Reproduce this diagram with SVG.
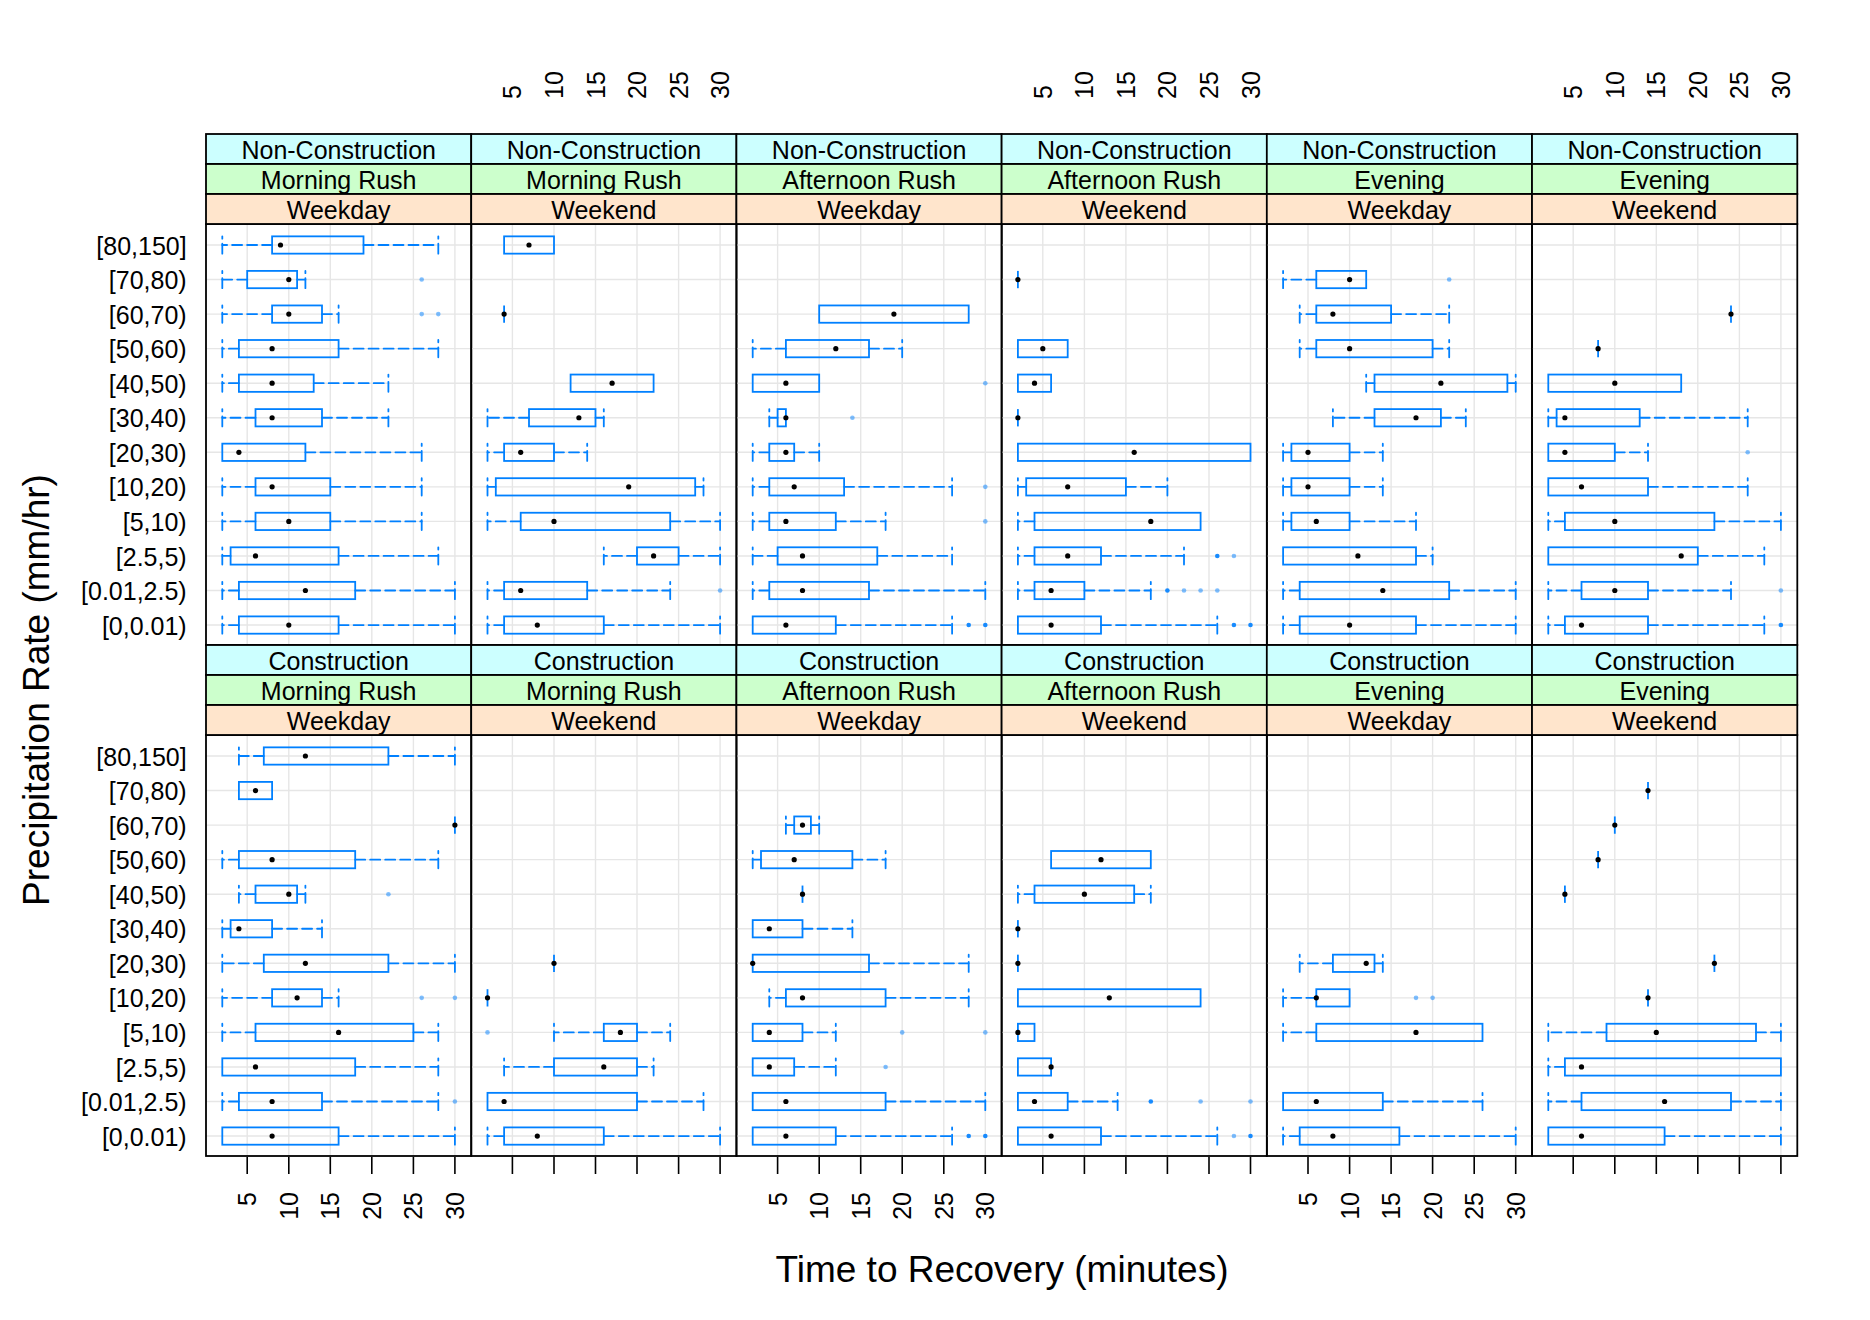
<svg xmlns="http://www.w3.org/2000/svg" width="1870" height="1320" viewBox="0 0 1870 1320">
<style>
text{font-family:"Liberation Sans",Arial,sans-serif;fill:#000}
.st{font-size:25px;text-anchor:middle}
.yl{font-size:25px;text-anchor:end}
.tk{font-size:25px}
.tke{font-size:25px;text-anchor:end}
.ttl{font-size:37px;text-anchor:middle}
.g{fill:none;stroke:#e6e6e6;stroke-width:1.4}
.f{fill:none;stroke:#000;stroke-width:1.8}
.s1{fill:#ccffff;stroke:#000;stroke-width:1.8}
.s2{fill:#ccffcc;stroke:#000;stroke-width:1.8}
.s3{fill:#ffe5cc;stroke:#000;stroke-width:1.8}
.b{fill:none;stroke:#0080ff;stroke-width:1.8}
.w{fill:none;stroke:#0080ff;stroke-width:1.8;stroke-dasharray:10 5;stroke-linecap:round}
.m{fill:#000}
.o{fill:#0080ff;fill-opacity:.5}
.od{fill:#0080ff;fill-opacity:.9}
.tick{fill:none;stroke:#000;stroke-width:1.6}
</style>
<defs>
<path id="grid" class="g" d="M41.5 0V421M83.1 0V421M124.6 0V421M166.1 0V421M207.7 0V421M249.2 0V421M0.3 21H265.6M0.3 55.55H265.6M0.3 90.1H265.6M0.3 124.65H265.6M0.3 159.2H265.6M0.3 193.75H265.6M0.3 228.3H265.6M0.3 262.85H265.6M0.3 297.4H265.6M0.3 331.95H265.6M0.3 366.5H265.6M0.3 401.05H265.6"/>
<path id="sp" d="M0 8.65V-8.65" fill="none" stroke="#0080ff" stroke-width="1.8" stroke-dasharray="10 5" stroke-linecap="round"/>
<path id="pt" d="M0 8.65V-8.65" fill="none" stroke="#0080ff" stroke-width="1.8"/>
</defs>
<rect width="1870" height="1320" fill="#fff"/>

<g id="axis-labels">
<text class="yl" x="186.7" y="254.5">[80,150]</text>
<text class="yl" x="186.7" y="289.1">[70,80)</text>
<text class="yl" x="186.7" y="323.6">[60,70)</text>
<text class="yl" x="186.7" y="358.2">[50,60)</text>
<text class="yl" x="186.7" y="392.7">[40,50)</text>
<text class="yl" x="186.7" y="427.3">[30,40)</text>
<text class="yl" x="186.7" y="461.8">[20,30)</text>
<text class="yl" x="186.7" y="496.4">[10,20)</text>
<text class="yl" x="186.7" y="530.9">[5,10)</text>
<text class="yl" x="186.7" y="565.5">[2.5,5)</text>
<text class="yl" x="186.7" y="600">[0.01,2.5)</text>
<text class="yl" x="186.7" y="634.5">[0,0.01)</text>
<text class="yl" x="186.7" y="765.5">[80,150]</text>
<text class="yl" x="186.7" y="800.1">[70,80)</text>
<text class="yl" x="186.7" y="834.6">[60,70)</text>
<text class="yl" x="186.7" y="869.2">[50,60)</text>
<text class="yl" x="186.7" y="903.7">[40,50)</text>
<text class="yl" x="186.7" y="938.3">[30,40)</text>
<text class="yl" x="186.7" y="972.8">[20,30)</text>
<text class="yl" x="186.7" y="1007.4">[10,20)</text>
<text class="yl" x="186.7" y="1041.9">[5,10)</text>
<text class="yl" x="186.7" y="1076.5">[2.5,5)</text>
<text class="yl" x="186.7" y="1111">[0.01,2.5)</text>
<text class="yl" x="186.7" y="1145.5">[0,0.01)</text>

<text class="tk" transform="translate(521.4,99) rotate(-90)">5</text>
<text class="tk" transform="translate(563,99) rotate(-90)">10</text>
<text class="tk" transform="translate(604.5,99) rotate(-90)">15</text>
<text class="tk" transform="translate(646,99) rotate(-90)">20</text>
<text class="tk" transform="translate(687.6,99) rotate(-90)">25</text>
<text class="tk" transform="translate(729.1,99) rotate(-90)">30</text>
<text class="tk" transform="translate(1051.8,99) rotate(-90)">5</text>
<text class="tk" transform="translate(1093.4,99) rotate(-90)">10</text>
<text class="tk" transform="translate(1134.9,99) rotate(-90)">15</text>
<text class="tk" transform="translate(1176.4,99) rotate(-90)">20</text>
<text class="tk" transform="translate(1218,99) rotate(-90)">25</text>
<text class="tk" transform="translate(1259.5,99) rotate(-90)">30</text>
<text class="tk" transform="translate(1582.2,99) rotate(-90)">5</text>
<text class="tk" transform="translate(1623.8,99) rotate(-90)">10</text>
<text class="tk" transform="translate(1665.3,99) rotate(-90)">15</text>
<text class="tk" transform="translate(1706.8,99) rotate(-90)">20</text>
<text class="tk" transform="translate(1748.4,99) rotate(-90)">25</text>
<text class="tk" transform="translate(1789.9,99) rotate(-90)">30</text>

<text class="tke" transform="translate(256.2,1192) rotate(-90)">5</text>
<text class="tke" transform="translate(297.8,1192) rotate(-90)">10</text>
<text class="tke" transform="translate(339.3,1192) rotate(-90)">15</text>
<text class="tke" transform="translate(380.8,1192) rotate(-90)">20</text>
<text class="tke" transform="translate(422.4,1192) rotate(-90)">25</text>
<text class="tke" transform="translate(463.9,1192) rotate(-90)">30</text>
<text class="tke" transform="translate(786.6,1192) rotate(-90)">5</text>
<text class="tke" transform="translate(828.2,1192) rotate(-90)">10</text>
<text class="tke" transform="translate(869.7,1192) rotate(-90)">15</text>
<text class="tke" transform="translate(911.2,1192) rotate(-90)">20</text>
<text class="tke" transform="translate(952.8,1192) rotate(-90)">25</text>
<text class="tke" transform="translate(994.3,1192) rotate(-90)">30</text>
<text class="tke" transform="translate(1317,1192) rotate(-90)">5</text>
<text class="tke" transform="translate(1358.6,1192) rotate(-90)">10</text>
<text class="tke" transform="translate(1400.1,1192) rotate(-90)">15</text>
<text class="tke" transform="translate(1441.6,1192) rotate(-90)">20</text>
<text class="tke" transform="translate(1483.2,1192) rotate(-90)">25</text>
<text class="tke" transform="translate(1524.7,1192) rotate(-90)">30</text>

<path class="tick" d="M247.2 1157V1174M288.8 1157V1174M330.3 1157V1174M371.8 1157V1174M413.4 1157V1174M454.9 1157V1174M512.4 1157V1174M554 1157V1174M595.5 1157V1174M637 1157V1174M678.6 1157V1174M720.1 1157V1174M777.6 1157V1174M819.2 1157V1174M860.7 1157V1174M902.2 1157V1174M943.8 1157V1174M985.3 1157V1174M1042.8 1157V1174M1084.4 1157V1174M1125.9 1157V1174M1167.4 1157V1174M1209 1157V1174M1250.5 1157V1174M1308 1157V1174M1349.6 1157V1174M1391.1 1157V1174M1432.6 1157V1174M1474.2 1157V1174M1515.7 1157V1174M1573.2 1157V1174M1614.8 1157V1174M1656.3 1157V1174M1697.8 1157V1174M1739.4 1157V1174M1780.9 1157V1174"/>

<text class="ttl" x="1002" y="1282">Time to Recovery (minutes)</text>
<text class="ttl" transform="translate(49.3,690) rotate(-90)">Precipitation Rate (mm/hr)</text>
</g>

<!-- ===== Top row: Non-Construction ===== -->
<g id="p-nc-morning-weekday" transform="translate(205.7,224)">
<use href="#grid"/>
<g transform="translate(0,21)"><line class="w" x1="66.4" x2="16.6"/><use href="#sp" x="16.6"/><rect class="b" x="66.4" y="-8.65" width="91.4" height="17.3"/><line class="w" x1="157.8" x2="232.6"/><use href="#sp" x="232.6"/><circle class="m" cx="74.8" r="2.6"/></g>
<g transform="translate(0,55.55)"><line class="w" x1="41.5" x2="16.6"/><use href="#sp" x="16.6"/><rect class="b" x="41.5" y="-8.65" width="49.9" height="17.3"/><line class="w" x1="91.4" x2="99.7"/><use href="#sp" x="99.7"/><circle class="m" cx="83.1" r="2.6"/><circle class="o" cx="216" r="2.3"/></g>
<g transform="translate(0,90.1)"><line class="w" x1="66.4" x2="16.6"/><use href="#sp" x="16.6"/><rect class="b" x="66.4" y="-8.65" width="49.9" height="17.3"/><line class="w" x1="116.3" x2="132.9"/><use href="#sp" x="132.9"/><circle class="m" cx="83.1" r="2.6"/><circle class="o" cx="216" r="2.3"/><circle class="o" cx="232.6" r="2.3"/></g>
<g transform="translate(0,124.65)"><line class="w" x1="33.2" x2="16.6"/><use href="#sp" x="16.6"/><rect class="b" x="33.2" y="-8.65" width="99.7" height="17.3"/><line class="w" x1="132.9" x2="232.6"/><use href="#sp" x="232.6"/><circle class="m" cx="66.4" r="2.6"/></g>
<g transform="translate(0,159.2)"><line class="w" x1="33.2" x2="16.6"/><use href="#sp" x="16.6"/><rect class="b" x="33.2" y="-8.65" width="74.8" height="17.3"/><line class="w" x1="108" x2="182.7"/><use href="#sp" x="182.7"/><circle class="m" cx="66.4" r="2.6"/></g>
<g transform="translate(0,193.75)"><line class="w" x1="49.8" x2="16.6"/><use href="#sp" x="16.6"/><rect class="b" x="49.8" y="-8.65" width="66.5" height="17.3"/><line class="w" x1="116.3" x2="182.7"/><use href="#sp" x="182.7"/><circle class="m" cx="66.4" r="2.6"/></g>
<g transform="translate(0,228.3)"><rect class="b" x="16.6" y="-8.65" width="83.1" height="17.3"/><line class="w" x1="99.7" x2="216"/><use href="#sp" x="216"/><circle class="m" cx="33.2" r="2.6"/></g>
<g transform="translate(0,262.85)"><line class="w" x1="49.8" x2="16.6"/><use href="#sp" x="16.6"/><rect class="b" x="49.8" y="-8.65" width="74.8" height="17.3"/><line class="w" x1="124.6" x2="216"/><use href="#sp" x="216"/><circle class="m" cx="66.4" r="2.6"/></g>
<g transform="translate(0,297.4)"><line class="w" x1="49.8" x2="16.6"/><use href="#sp" x="16.6"/><rect class="b" x="49.8" y="-8.65" width="74.8" height="17.3"/><line class="w" x1="124.6" x2="216"/><use href="#sp" x="216"/><circle class="m" cx="83.1" r="2.6"/></g>
<g transform="translate(0,331.95)"><line class="w" x1="24.9" x2="16.6"/><use href="#sp" x="16.6"/><rect class="b" x="24.9" y="-8.65" width="108" height="17.3"/><line class="w" x1="132.9" x2="232.6"/><use href="#sp" x="232.6"/><circle class="m" cx="49.8" r="2.6"/></g>
<g transform="translate(0,366.5)"><line class="w" x1="33.2" x2="16.6"/><use href="#sp" x="16.6"/><rect class="b" x="33.2" y="-8.65" width="116.3" height="17.3"/><line class="w" x1="149.5" x2="249.2"/><use href="#sp" x="249.2"/><circle class="m" cx="99.7" r="2.6"/></g>
<g transform="translate(0,401.05)"><line class="w" x1="33.2" x2="16.6"/><use href="#sp" x="16.6"/><rect class="b" x="33.2" y="-8.65" width="99.7" height="17.3"/><line class="w" x1="132.9" x2="249.2"/><use href="#sp" x="249.2"/><circle class="m" cx="83.1" r="2.6"/></g>
<rect class="f" x="0.3" y="0" width="265.3" height="421"/>
<rect class="s1" x="0.3" y="-90" width="265.3" height="30"/><text class="st" x="133" y="-65">Non-Construction</text>
<rect class="s2" x="0.3" y="-60" width="265.3" height="30"/><text class="st" x="133" y="-35">Morning Rush</text>
<rect class="s3" x="0.3" y="-30" width="265.3" height="30"/><text class="st" x="133" y="-5">Weekday</text>
</g>

<g id="p-nc-morning-weekend" transform="translate(470.9,224)">
<use href="#grid"/>
<g transform="translate(0,21)"><rect class="b" x="33.2" y="-8.65" width="49.9" height="17.3"/><circle class="m" cx="58.1" r="2.6"/></g>
<g transform="translate(0,90.1)"><use href="#pt" x="33.2"/><circle class="m" cx="33.2" r="2.6"/></g>
<g transform="translate(0,159.2)"><rect class="b" x="99.7" y="-8.65" width="83" height="17.3"/><circle class="m" cx="141.2" r="2.6"/></g>
<g transform="translate(0,193.75)"><line class="w" x1="58.1" x2="16.6"/><use href="#sp" x="16.6"/><rect class="b" x="58.1" y="-8.65" width="66.5" height="17.3"/><line class="w" x1="124.6" x2="132.9"/><use href="#sp" x="132.9"/><circle class="m" cx="108" r="2.6"/></g>
<g transform="translate(0,228.3)"><line class="w" x1="33.2" x2="16.6"/><use href="#sp" x="16.6"/><rect class="b" x="33.2" y="-8.65" width="49.9" height="17.3"/><line class="w" x1="83.1" x2="116.3"/><use href="#sp" x="116.3"/><circle class="m" cx="49.8" r="2.6"/></g>
<g transform="translate(0,262.85)"><line class="w" x1="24.9" x2="16.6"/><use href="#sp" x="16.6"/><rect class="b" x="24.9" y="-8.65" width="199.4" height="17.3"/><line class="w" x1="224.3" x2="232.6"/><use href="#sp" x="232.6"/><circle class="m" cx="157.8" r="2.6"/></g>
<g transform="translate(0,297.4)"><line class="w" x1="49.8" x2="16.6"/><use href="#sp" x="16.6"/><rect class="b" x="49.8" y="-8.65" width="149.5" height="17.3"/><line class="w" x1="199.3" x2="249.2"/><use href="#sp" x="249.2"/><circle class="m" cx="83.1" r="2.6"/></g>
<g transform="translate(0,331.95)"><line class="w" x1="166.1" x2="132.9"/><use href="#sp" x="132.9"/><rect class="b" x="166.1" y="-8.65" width="41.6" height="17.3"/><line class="w" x1="207.7" x2="249.2"/><use href="#sp" x="249.2"/><circle class="m" cx="182.7" r="2.6"/></g>
<g transform="translate(0,366.5)"><line class="w" x1="33.2" x2="16.6"/><use href="#sp" x="16.6"/><rect class="b" x="33.2" y="-8.65" width="83.1" height="17.3"/><line class="w" x1="116.3" x2="199.3"/><use href="#sp" x="199.3"/><circle class="m" cx="49.8" r="2.6"/><circle class="o" cx="249.2" r="2.3"/></g>
<g transform="translate(0,401.05)"><line class="w" x1="33.2" x2="16.6"/><use href="#sp" x="16.6"/><rect class="b" x="33.2" y="-8.65" width="99.7" height="17.3"/><line class="w" x1="132.9" x2="249.2"/><use href="#sp" x="249.2"/><circle class="m" cx="66.4" r="2.6"/></g>
<rect class="f" x="0.3" y="0" width="265.3" height="421"/>
<rect class="s1" x="0.3" y="-90" width="265.3" height="30"/><text class="st" x="133" y="-65">Non-Construction</text>
<rect class="s2" x="0.3" y="-60" width="265.3" height="30"/><text class="st" x="133" y="-35">Morning Rush</text>
<rect class="s3" x="0.3" y="-30" width="265.3" height="30"/><text class="st" x="133" y="-5">Weekend</text>
</g>

<g id="p-nc-afternoon-weekday" transform="translate(736.1,224)">
<use href="#grid"/>
<g transform="translate(0,90.1)"><rect class="b" x="83.1" y="-8.65" width="149.5" height="17.3"/><circle class="m" cx="157.8" r="2.6"/></g>
<g transform="translate(0,124.65)"><line class="w" x1="49.8" x2="16.6"/><use href="#sp" x="16.6"/><rect class="b" x="49.8" y="-8.65" width="83.1" height="17.3"/><line class="w" x1="132.9" x2="166.1"/><use href="#sp" x="166.1"/><circle class="m" cx="99.7" r="2.6"/></g>
<g transform="translate(0,159.2)"><rect class="b" x="16.6" y="-8.65" width="66.5" height="17.3"/><circle class="m" cx="49.8" r="2.6"/><circle class="o" cx="249.2" r="2.3"/></g>
<g transform="translate(0,193.75)"><line class="w" x1="41.5" x2="33.2"/><use href="#sp" x="33.2"/><rect class="b" x="41.5" y="-8.65" width="8.3" height="17.3"/><circle class="m" cx="49.8" r="2.6"/><circle class="o" cx="116.3" r="2.3"/></g>
<g transform="translate(0,228.3)"><line class="w" x1="33.2" x2="16.6"/><use href="#sp" x="16.6"/><rect class="b" x="33.2" y="-8.65" width="24.9" height="17.3"/><line class="w" x1="58.1" x2="83.1"/><use href="#sp" x="83.1"/><circle class="m" cx="49.8" r="2.6"/></g>
<g transform="translate(0,262.85)"><line class="w" x1="33.2" x2="16.6"/><use href="#sp" x="16.6"/><rect class="b" x="33.2" y="-8.65" width="74.8" height="17.3"/><line class="w" x1="108" x2="216"/><use href="#sp" x="216"/><circle class="m" cx="58.1" r="2.6"/><circle class="o" cx="249.2" r="2.3"/></g>
<g transform="translate(0,297.4)"><line class="w" x1="33.2" x2="16.6"/><use href="#sp" x="16.6"/><rect class="b" x="33.2" y="-8.65" width="66.5" height="17.3"/><line class="w" x1="99.7" x2="149.5"/><use href="#sp" x="149.5"/><circle class="m" cx="49.8" r="2.6"/><circle class="o" cx="249.2" r="2.3" fill-opacity=".7"/></g>
<g transform="translate(0,331.95)"><line class="w" x1="41.5" x2="16.6"/><use href="#sp" x="16.6"/><rect class="b" x="41.5" y="-8.65" width="99.7" height="17.3"/><line class="w" x1="141.2" x2="216"/><use href="#sp" x="216"/><circle class="m" cx="66.4" r="2.6"/></g>
<g transform="translate(0,366.5)"><line class="w" x1="33.2" x2="16.6"/><use href="#sp" x="16.6"/><rect class="b" x="33.2" y="-8.65" width="99.7" height="17.3"/><line class="w" x1="132.9" x2="249.2"/><use href="#sp" x="249.2"/><circle class="m" cx="66.4" r="2.6"/></g>
<g transform="translate(0,401.05)"><rect class="b" x="16.6" y="-8.65" width="83.1" height="17.3"/><line class="w" x1="99.7" x2="216"/><use href="#sp" x="216"/><circle class="m" cx="49.8" r="2.6"/><circle class="od" cx="232.6" r="2.3"/><circle class="od" cx="249.2" r="2.3"/></g>
<rect class="f" x="0.3" y="0" width="265.3" height="421"/>
<rect class="s1" x="0.3" y="-90" width="265.3" height="30"/><text class="st" x="133" y="-65">Non-Construction</text>
<rect class="s2" x="0.3" y="-60" width="265.3" height="30"/><text class="st" x="133" y="-35">Afternoon Rush</text>
<rect class="s3" x="0.3" y="-30" width="265.3" height="30"/><text class="st" x="133" y="-5">Weekday</text>
</g>

<g id="p-nc-afternoon-weekend" transform="translate(1001.3,224)">
<use href="#grid"/>
<g transform="translate(0,55.55)"><use href="#pt" x="16.6"/><circle class="m" cx="16.6" r="2.6"/></g>
<g transform="translate(0,124.65)"><rect class="b" x="16.6" y="-8.65" width="49.8" height="17.3"/><circle class="m" cx="41.5" r="2.6"/></g>
<g transform="translate(0,159.2)"><rect class="b" x="16.6" y="-8.65" width="33.2" height="17.3"/><circle class="m" cx="33.2" r="2.6"/></g>
<g transform="translate(0,193.75)"><use href="#pt" x="16.6"/><circle class="m" cx="16.6" r="2.6"/></g>
<g transform="translate(0,228.3)"><rect class="b" x="16.6" y="-8.65" width="232.6" height="17.3"/><circle class="m" cx="132.9" r="2.6"/></g>
<g transform="translate(0,262.85)"><line class="w" x1="24.9" x2="16.6"/><use href="#sp" x="16.6"/><rect class="b" x="24.9" y="-8.65" width="99.7" height="17.3"/><line class="w" x1="124.6" x2="166.1"/><use href="#sp" x="166.1"/><circle class="m" cx="66.4" r="2.6"/></g>
<g transform="translate(0,297.4)"><line class="w" x1="33.2" x2="16.6"/><use href="#sp" x="16.6"/><rect class="b" x="33.2" y="-8.65" width="166.1" height="17.3"/><circle class="m" cx="149.5" r="2.6"/></g>
<g transform="translate(0,331.95)"><line class="w" x1="33.2" x2="16.6"/><use href="#sp" x="16.6"/><rect class="b" x="33.2" y="-8.65" width="66.5" height="17.3"/><line class="w" x1="99.7" x2="182.7"/><use href="#sp" x="182.7"/><circle class="m" cx="66.4" r="2.6"/><circle class="od" cx="216" r="2.3"/><circle class="o" cx="232.6" r="2.3"/></g>
<g transform="translate(0,366.5)"><line class="w" x1="33.2" x2="16.6"/><use href="#sp" x="16.6"/><rect class="b" x="33.2" y="-8.65" width="49.9" height="17.3"/><line class="w" x1="83.1" x2="149.5"/><use href="#sp" x="149.5"/><circle class="m" cx="49.8" r="2.6"/><circle class="od" cx="166.1" r="2.3"/><circle class="o" cx="182.7" r="2.3"/><circle class="o" cx="199.3" r="2.3"/><circle class="o" cx="216" r="2.3"/></g>
<g transform="translate(0,401.05)"><rect class="b" x="16.6" y="-8.65" width="83.1" height="17.3"/><line class="w" x1="99.7" x2="216"/><use href="#sp" x="216"/><circle class="m" cx="49.8" r="2.6"/><circle class="od" cx="232.6" r="2.3"/><circle class="od" cx="249.2" r="2.3"/></g>
<rect class="f" x="0.3" y="0" width="265.3" height="421"/>
<rect class="s1" x="0.3" y="-90" width="265.3" height="30"/><text class="st" x="133" y="-65">Non-Construction</text>
<rect class="s2" x="0.3" y="-60" width="265.3" height="30"/><text class="st" x="133" y="-35">Afternoon Rush</text>
<rect class="s3" x="0.3" y="-30" width="265.3" height="30"/><text class="st" x="133" y="-5">Weekend</text>
</g>

<g id="p-nc-evening-weekday" transform="translate(1266.5,224)">
<use href="#grid"/>
<g transform="translate(0,55.55)"><line class="w" x1="49.8" x2="16.6"/><use href="#sp" x="16.6"/><rect class="b" x="49.8" y="-8.65" width="49.9" height="17.3"/><circle class="m" cx="83.1" r="2.6"/><circle class="o" cx="182.7" r="2.3"/></g>
<g transform="translate(0,90.1)"><line class="w" x1="49.8" x2="33.2"/><use href="#sp" x="33.2"/><rect class="b" x="49.8" y="-8.65" width="74.8" height="17.3"/><line class="w" x1="124.6" x2="182.7"/><use href="#sp" x="182.7"/><circle class="m" cx="66.4" r="2.6"/></g>
<g transform="translate(0,124.65)"><line class="w" x1="49.8" x2="33.2"/><use href="#sp" x="33.2"/><rect class="b" x="49.8" y="-8.65" width="116.3" height="17.3"/><line class="w" x1="166.1" x2="182.7"/><use href="#sp" x="182.7"/><circle class="m" cx="83.1" r="2.6"/></g>
<g transform="translate(0,159.2)"><line class="w" x1="108" x2="99.7"/><use href="#sp" x="99.7"/><rect class="b" x="108" y="-8.65" width="132.9" height="17.3"/><line class="w" x1="240.9" x2="249.2"/><use href="#sp" x="249.2"/><circle class="m" cx="174.4" r="2.6"/></g>
<g transform="translate(0,193.75)"><line class="w" x1="108" x2="66.4"/><use href="#sp" x="66.4"/><rect class="b" x="108" y="-8.65" width="66.4" height="17.3"/><line class="w" x1="174.4" x2="199.3"/><use href="#sp" x="199.3"/><circle class="m" cx="149.5" r="2.6"/></g>
<g transform="translate(0,228.3)"><line class="w" x1="24.9" x2="16.6"/><use href="#sp" x="16.6"/><rect class="b" x="24.9" y="-8.65" width="58.2" height="17.3"/><line class="w" x1="83.1" x2="116.3"/><use href="#sp" x="116.3"/><circle class="m" cx="41.5" r="2.6"/></g>
<g transform="translate(0,262.85)"><line class="w" x1="24.9" x2="16.6"/><use href="#sp" x="16.6"/><rect class="b" x="24.9" y="-8.65" width="58.2" height="17.3"/><line class="w" x1="83.1" x2="116.3"/><use href="#sp" x="116.3"/><circle class="m" cx="41.5" r="2.6"/></g>
<g transform="translate(0,297.4)"><line class="w" x1="24.9" x2="16.6"/><use href="#sp" x="16.6"/><rect class="b" x="24.9" y="-8.65" width="58.2" height="17.3"/><line class="w" x1="83.1" x2="149.5"/><use href="#sp" x="149.5"/><circle class="m" cx="49.8" r="2.6"/></g>
<g transform="translate(0,331.95)"><rect class="b" x="16.6" y="-8.65" width="132.9" height="17.3"/><line class="w" x1="149.5" x2="166.1"/><use href="#sp" x="166.1"/><circle class="m" cx="91.4" r="2.6"/></g>
<g transform="translate(0,366.5)"><line class="w" x1="33.2" x2="16.6"/><use href="#sp" x="16.6"/><rect class="b" x="33.2" y="-8.65" width="149.5" height="17.3"/><line class="w" x1="182.7" x2="249.2"/><use href="#sp" x="249.2"/><circle class="m" cx="116.3" r="2.6"/></g>
<g transform="translate(0,401.05)"><line class="w" x1="33.2" x2="16.6"/><use href="#sp" x="16.6"/><rect class="b" x="33.2" y="-8.65" width="116.3" height="17.3"/><line class="w" x1="149.5" x2="249.2"/><use href="#sp" x="249.2"/><circle class="m" cx="83.1" r="2.6"/></g>
<rect class="f" x="0.3" y="0" width="265.3" height="421"/>
<rect class="s1" x="0.3" y="-90" width="265.3" height="30"/><text class="st" x="133" y="-65">Non-Construction</text>
<rect class="s2" x="0.3" y="-60" width="265.3" height="30"/><text class="st" x="133" y="-35">Evening</text>
<rect class="s3" x="0.3" y="-30" width="265.3" height="30"/><text class="st" x="133" y="-5">Weekday</text>
</g>

<g id="p-nc-evening-weekend" transform="translate(1531.7,224)">
<use href="#grid"/>
<g transform="translate(0,90.1)"><use href="#pt" x="199.3"/><circle class="m" cx="199.3" r="2.6"/></g>
<g transform="translate(0,124.65)"><use href="#pt" x="66.4"/><circle class="m" cx="66.4" r="2.6"/></g>
<g transform="translate(0,159.2)"><rect class="b" x="16.6" y="-8.65" width="132.9" height="17.3"/><circle class="m" cx="83.1" r="2.6"/></g>
<g transform="translate(0,193.75)"><line class="w" x1="24.9" x2="16.6"/><use href="#sp" x="16.6"/><rect class="b" x="24.9" y="-8.65" width="83.1" height="17.3"/><line class="w" x1="108" x2="216"/><use href="#sp" x="216"/><circle class="m" cx="33.2" r="2.6"/></g>
<g transform="translate(0,228.3)"><rect class="b" x="16.6" y="-8.65" width="66.5" height="17.3"/><line class="w" x1="83.1" x2="116.3"/><use href="#sp" x="116.3"/><circle class="m" cx="33.2" r="2.6"/><circle class="o" cx="216" r="2.3" fill-opacity=".7"/></g>
<g transform="translate(0,262.85)"><rect class="b" x="16.6" y="-8.65" width="99.7" height="17.3"/><line class="w" x1="116.3" x2="216"/><use href="#sp" x="216"/><circle class="m" cx="49.8" r="2.6"/></g>
<g transform="translate(0,297.4)"><line class="w" x1="33.2" x2="16.6"/><use href="#sp" x="16.6"/><rect class="b" x="33.2" y="-8.65" width="149.5" height="17.3"/><line class="w" x1="182.7" x2="249.2"/><use href="#sp" x="249.2"/><circle class="m" cx="83.1" r="2.6"/></g>
<g transform="translate(0,331.95)"><rect class="b" x="16.6" y="-8.65" width="149.5" height="17.3"/><line class="w" x1="166.1" x2="232.6"/><use href="#sp" x="232.6"/><circle class="m" cx="149.5" r="2.6"/></g>
<g transform="translate(0,366.5)"><line class="w" x1="49.8" x2="16.6"/><use href="#sp" x="16.6"/><rect class="b" x="49.8" y="-8.65" width="66.5" height="17.3"/><line class="w" x1="116.3" x2="199.3"/><use href="#sp" x="199.3"/><circle class="m" cx="83.1" r="2.6"/><circle class="o" cx="249.2" r="2.3"/></g>
<g transform="translate(0,401.05)"><line class="w" x1="33.2" x2="16.6"/><use href="#sp" x="16.6"/><rect class="b" x="33.2" y="-8.65" width="83.1" height="17.3"/><line class="w" x1="116.3" x2="232.6"/><use href="#sp" x="232.6"/><circle class="m" cx="49.8" r="2.6"/><circle class="od" cx="249.2" r="2.3"/></g>
<rect class="f" x="0.3" y="0" width="265.3" height="421"/>
<rect class="s1" x="0.3" y="-90" width="265.3" height="30"/><text class="st" x="133" y="-65">Non-Construction</text>
<rect class="s2" x="0.3" y="-60" width="265.3" height="30"/><text class="st" x="133" y="-35">Evening</text>
<rect class="s3" x="0.3" y="-30" width="265.3" height="30"/><text class="st" x="133" y="-5">Weekend</text>
</g>

<!-- ===== Bottom row: Construction ===== -->
<g id="p-c-morning-weekday" transform="translate(205.7,735)">
<use href="#grid"/>
<g transform="translate(0,21)"><line class="w" x1="58.1" x2="33.2"/><use href="#sp" x="33.2"/><rect class="b" x="58.1" y="-8.65" width="124.6" height="17.3"/><line class="w" x1="182.7" x2="249.2"/><use href="#sp" x="249.2"/><circle class="m" cx="99.7" r="2.6"/></g>
<g transform="translate(0,55.55)"><rect class="b" x="33.2" y="-8.65" width="33.2" height="17.3"/><circle class="m" cx="49.8" r="2.6"/></g>
<g transform="translate(0,90.1)"><use href="#pt" x="249.2"/><circle class="m" cx="249.2" r="2.6"/></g>
<g transform="translate(0,124.65)"><line class="w" x1="33.2" x2="16.6"/><use href="#sp" x="16.6"/><rect class="b" x="33.2" y="-8.65" width="116.3" height="17.3"/><line class="w" x1="149.5" x2="232.6"/><use href="#sp" x="232.6"/><circle class="m" cx="66.4" r="2.6"/></g>
<g transform="translate(0,159.2)"><line class="w" x1="49.8" x2="33.2"/><use href="#sp" x="33.2"/><rect class="b" x="49.8" y="-8.65" width="41.6" height="17.3"/><line class="w" x1="91.4" x2="99.7"/><use href="#sp" x="99.7"/><circle class="m" cx="83.1" r="2.6"/><circle class="o" cx="182.7" r="2.3"/></g>
<g transform="translate(0,193.75)"><line class="w" x1="24.9" x2="16.6"/><use href="#sp" x="16.6"/><rect class="b" x="24.9" y="-8.65" width="41.5" height="17.3"/><line class="w" x1="66.4" x2="116.3"/><use href="#sp" x="116.3"/><circle class="m" cx="33.2" r="2.6"/></g>
<g transform="translate(0,228.3)"><line class="w" x1="58.1" x2="16.6"/><use href="#sp" x="16.6"/><rect class="b" x="58.1" y="-8.65" width="124.6" height="17.3"/><line class="w" x1="182.7" x2="249.2"/><use href="#sp" x="249.2"/><circle class="m" cx="99.7" r="2.6"/></g>
<g transform="translate(0,262.85)"><line class="w" x1="66.4" x2="16.6"/><use href="#sp" x="16.6"/><rect class="b" x="66.4" y="-8.65" width="49.9" height="17.3"/><line class="w" x1="116.3" x2="132.9"/><use href="#sp" x="132.9"/><circle class="m" cx="91.4" r="2.6"/><circle class="o" cx="216" r="2.3"/><circle class="o" cx="249.2" r="2.3"/></g>
<g transform="translate(0,297.4)"><line class="w" x1="49.8" x2="16.6"/><use href="#sp" x="16.6"/><rect class="b" x="49.8" y="-8.65" width="157.9" height="17.3"/><line class="w" x1="207.7" x2="232.6"/><use href="#sp" x="232.6"/><circle class="m" cx="132.9" r="2.6"/></g>
<g transform="translate(0,331.95)"><rect class="b" x="16.6" y="-8.65" width="132.9" height="17.3"/><line class="w" x1="149.5" x2="232.6"/><use href="#sp" x="232.6"/><circle class="m" cx="49.8" r="2.6"/></g>
<g transform="translate(0,366.5)"><line class="w" x1="33.2" x2="16.6"/><use href="#sp" x="16.6"/><rect class="b" x="33.2" y="-8.65" width="83.1" height="17.3"/><line class="w" x1="116.3" x2="232.6"/><use href="#sp" x="232.6"/><circle class="m" cx="66.4" r="2.6"/><circle class="o" cx="249.2" r="2.3"/></g>
<g transform="translate(0,401.05)"><rect class="b" x="16.6" y="-8.65" width="116.3" height="17.3"/><line class="w" x1="132.9" x2="249.2"/><use href="#sp" x="249.2"/><circle class="m" cx="66.4" r="2.6"/></g>
<rect class="f" x="0.3" y="0" width="265.3" height="421"/>
<rect class="s1" x="0.3" y="-90" width="265.3" height="30"/><text class="st" x="133" y="-65">Construction</text>
<rect class="s2" x="0.3" y="-60" width="265.3" height="30"/><text class="st" x="133" y="-35">Morning Rush</text>
<rect class="s3" x="0.3" y="-30" width="265.3" height="30"/><text class="st" x="133" y="-5">Weekday</text>
</g>

<g id="p-c-morning-weekend" transform="translate(470.9,735)">
<use href="#grid"/>
<g transform="translate(0,228.3)"><use href="#pt" x="83.1"/><circle class="m" cx="83.1" r="2.6"/></g>
<g transform="translate(0,262.85)"><use href="#pt" x="16.6"/><circle class="m" cx="16.6" r="2.6"/></g>
<g transform="translate(0,297.4)"><line class="w" x1="132.9" x2="83.1"/><use href="#sp" x="83.1"/><rect class="b" x="132.9" y="-8.65" width="33.2" height="17.3"/><line class="w" x1="166.1" x2="199.3"/><use href="#sp" x="199.3"/><circle class="m" cx="149.5" r="2.6"/><circle class="o" cx="16.6" r="2.3"/></g>
<g transform="translate(0,331.95)"><line class="w" x1="83.1" x2="33.2"/><use href="#sp" x="33.2"/><rect class="b" x="83.1" y="-8.65" width="83" height="17.3"/><line class="w" x1="166.1" x2="182.7"/><use href="#sp" x="182.7"/><circle class="m" cx="132.9" r="2.6"/></g>
<g transform="translate(0,366.5)"><rect class="b" x="16.6" y="-8.65" width="149.5" height="17.3"/><line class="w" x1="166.1" x2="232.6"/><use href="#sp" x="232.6"/><circle class="m" cx="33.2" r="2.6"/></g>
<g transform="translate(0,401.05)"><line class="w" x1="33.2" x2="16.6"/><use href="#sp" x="16.6"/><rect class="b" x="33.2" y="-8.65" width="99.7" height="17.3"/><line class="w" x1="132.9" x2="249.2"/><use href="#sp" x="249.2"/><circle class="m" cx="66.4" r="2.6"/></g>
<rect class="f" x="0.3" y="0" width="265.3" height="421"/>
<rect class="s1" x="0.3" y="-90" width="265.3" height="30"/><text class="st" x="133" y="-65">Construction</text>
<rect class="s2" x="0.3" y="-60" width="265.3" height="30"/><text class="st" x="133" y="-35">Morning Rush</text>
<rect class="s3" x="0.3" y="-30" width="265.3" height="30"/><text class="st" x="133" y="-5">Weekend</text>
</g>

<g id="p-c-afternoon-weekday" transform="translate(736.1,735)">
<use href="#grid"/>
<g transform="translate(0,90.1)"><line class="w" x1="58.1" x2="49.8"/><use href="#sp" x="49.8"/><rect class="b" x="58.1" y="-8.65" width="16.7" height="17.3"/><line class="w" x1="74.8" x2="83.1"/><use href="#sp" x="83.1"/><circle class="m" cx="66.4" r="2.6"/></g>
<g transform="translate(0,124.65)"><line class="w" x1="24.9" x2="16.6"/><use href="#sp" x="16.6"/><rect class="b" x="24.9" y="-8.65" width="91.4" height="17.3"/><line class="w" x1="116.3" x2="149.5"/><use href="#sp" x="149.5"/><circle class="m" cx="58.1" r="2.6"/></g>
<g transform="translate(0,159.2)"><use href="#pt" x="66.4"/><circle class="m" cx="66.4" r="2.6"/></g>
<g transform="translate(0,193.75)"><rect class="b" x="16.6" y="-8.65" width="49.8" height="17.3"/><line class="w" x1="66.4" x2="116.3"/><use href="#sp" x="116.3"/><circle class="m" cx="33.2" r="2.6"/></g>
<g transform="translate(0,228.3)"><rect class="b" x="16.6" y="-8.65" width="116.3" height="17.3"/><line class="w" x1="132.9" x2="232.6"/><use href="#sp" x="232.6"/><circle class="m" cx="16.6" r="2.6"/></g>
<g transform="translate(0,262.85)"><line class="w" x1="49.8" x2="33.2"/><use href="#sp" x="33.2"/><rect class="b" x="49.8" y="-8.65" width="99.7" height="17.3"/><line class="w" x1="149.5" x2="232.6"/><use href="#sp" x="232.6"/><circle class="m" cx="66.4" r="2.6"/></g>
<g transform="translate(0,297.4)"><rect class="b" x="16.6" y="-8.65" width="49.8" height="17.3"/><line class="w" x1="66.4" x2="99.7"/><use href="#sp" x="99.7"/><circle class="m" cx="33.2" r="2.6"/><circle class="o" cx="166.1" r="2.3"/><circle class="o" cx="249.2" r="2.3"/></g>
<g transform="translate(0,331.95)"><rect class="b" x="16.6" y="-8.65" width="41.5" height="17.3"/><line class="w" x1="58.1" x2="99.7"/><use href="#sp" x="99.7"/><circle class="m" cx="33.2" r="2.6"/><circle class="o" cx="149.5" r="2.3"/></g>
<g transform="translate(0,366.5)"><rect class="b" x="16.6" y="-8.65" width="132.9" height="17.3"/><line class="w" x1="149.5" x2="249.2"/><use href="#sp" x="249.2"/><circle class="m" cx="49.8" r="2.6"/></g>
<g transform="translate(0,401.05)"><rect class="b" x="16.6" y="-8.65" width="83.1" height="17.3"/><line class="w" x1="99.7" x2="216"/><use href="#sp" x="216"/><circle class="m" cx="49.8" r="2.6"/><circle class="od" cx="232.6" r="2.3"/><circle class="od" cx="249.2" r="2.3"/></g>
<rect class="f" x="0.3" y="0" width="265.3" height="421"/>
<rect class="s1" x="0.3" y="-90" width="265.3" height="30"/><text class="st" x="133" y="-65">Construction</text>
<rect class="s2" x="0.3" y="-60" width="265.3" height="30"/><text class="st" x="133" y="-35">Afternoon Rush</text>
<rect class="s3" x="0.3" y="-30" width="265.3" height="30"/><text class="st" x="133" y="-5">Weekday</text>
</g>

<g id="p-c-afternoon-weekend" transform="translate(1001.3,735)">
<use href="#grid"/>
<g transform="translate(0,124.65)"><rect class="b" x="49.8" y="-8.65" width="99.7" height="17.3"/><circle class="m" cx="99.7" r="2.6"/></g>
<g transform="translate(0,159.2)"><line class="w" x1="33.2" x2="16.6"/><use href="#sp" x="16.6"/><rect class="b" x="33.2" y="-8.65" width="99.7" height="17.3"/><line class="w" x1="132.9" x2="149.5"/><use href="#sp" x="149.5"/><circle class="m" cx="83.1" r="2.6"/></g>
<g transform="translate(0,193.75)"><use href="#pt" x="16.6"/><circle class="m" cx="16.6" r="2.6"/></g>
<g transform="translate(0,228.3)"><use href="#pt" x="16.6"/><circle class="m" cx="16.6" r="2.6"/></g>
<g transform="translate(0,262.85)"><rect class="b" x="16.6" y="-8.65" width="182.7" height="17.3"/><circle class="m" cx="108" r="2.6"/></g>
<g transform="translate(0,297.4)"><rect class="b" x="16.6" y="-8.65" width="16.6" height="17.3"/><circle class="m" cx="16.6" r="2.6"/></g>
<g transform="translate(0,331.95)"><rect class="b" x="16.6" y="-8.65" width="33.2" height="17.3"/><circle class="m" cx="49.8" r="2.6"/></g>
<g transform="translate(0,366.5)"><rect class="b" x="16.6" y="-8.65" width="49.8" height="17.3"/><line class="w" x1="66.4" x2="116.3"/><use href="#sp" x="116.3"/><circle class="m" cx="33.2" r="2.6"/><circle class="od" cx="149.5" r="2.3"/><circle class="o" cx="199.3" r="2.3"/><circle class="o" cx="249.2" r="2.3"/></g>
<g transform="translate(0,401.05)"><rect class="b" x="16.6" y="-8.65" width="83.1" height="17.3"/><line class="w" x1="99.7" x2="216"/><use href="#sp" x="216"/><circle class="m" cx="49.8" r="2.6"/><circle class="o" cx="232.6" r="2.3"/><circle class="od" cx="249.2" r="2.3"/></g>
<rect class="f" x="0.3" y="0" width="265.3" height="421"/>
<rect class="s1" x="0.3" y="-90" width="265.3" height="30"/><text class="st" x="133" y="-65">Construction</text>
<rect class="s2" x="0.3" y="-60" width="265.3" height="30"/><text class="st" x="133" y="-35">Afternoon Rush</text>
<rect class="s3" x="0.3" y="-30" width="265.3" height="30"/><text class="st" x="133" y="-5">Weekend</text>
</g>

<g id="p-c-evening-weekday" transform="translate(1266.5,735)">
<use href="#grid"/>
<g transform="translate(0,228.3)"><line class="w" x1="66.4" x2="33.2"/><use href="#sp" x="33.2"/><rect class="b" x="66.4" y="-8.65" width="41.6" height="17.3"/><line class="w" x1="108" x2="116.3"/><use href="#sp" x="116.3"/><circle class="m" cx="99.7" r="2.6"/></g>
<g transform="translate(0,262.85)"><line class="w" x1="49.8" x2="16.6"/><use href="#sp" x="16.6"/><rect class="b" x="49.8" y="-8.65" width="33.3" height="17.3"/><circle class="m" cx="49.8" r="2.6"/><circle class="o" cx="149.5" r="2.3"/><circle class="o" cx="166.1" r="2.3"/></g>
<g transform="translate(0,297.4)"><line class="w" x1="49.8" x2="16.6"/><use href="#sp" x="16.6"/><rect class="b" x="49.8" y="-8.65" width="166.2" height="17.3"/><circle class="m" cx="149.5" r="2.6"/></g>
<g transform="translate(0,366.5)"><rect class="b" x="16.6" y="-8.65" width="99.7" height="17.3"/><line class="w" x1="116.3" x2="216"/><use href="#sp" x="216"/><circle class="m" cx="49.8" r="2.6"/></g>
<g transform="translate(0,401.05)"><line class="w" x1="33.2" x2="16.6"/><use href="#sp" x="16.6"/><rect class="b" x="33.2" y="-8.65" width="99.7" height="17.3"/><line class="w" x1="132.9" x2="249.2"/><use href="#sp" x="249.2"/><circle class="m" cx="66.4" r="2.6"/></g>
<rect class="f" x="0.3" y="0" width="265.3" height="421"/>
<rect class="s1" x="0.3" y="-90" width="265.3" height="30"/><text class="st" x="133" y="-65">Construction</text>
<rect class="s2" x="0.3" y="-60" width="265.3" height="30"/><text class="st" x="133" y="-35">Evening</text>
<rect class="s3" x="0.3" y="-30" width="265.3" height="30"/><text class="st" x="133" y="-5">Weekday</text>
</g>

<g id="p-c-evening-weekend" transform="translate(1531.7,735)">
<use href="#grid"/>
<g transform="translate(0,55.55)"><use href="#pt" x="116.3"/><circle class="m" cx="116.3" r="2.6"/></g>
<g transform="translate(0,90.1)"><use href="#pt" x="83.1"/><circle class="m" cx="83.1" r="2.6"/></g>
<g transform="translate(0,124.65)"><use href="#pt" x="66.4"/><circle class="m" cx="66.4" r="2.6"/></g>
<g transform="translate(0,159.2)"><use href="#pt" x="33.2"/><circle class="m" cx="33.2" r="2.6"/></g>
<g transform="translate(0,228.3)"><use href="#pt" x="182.7"/><circle class="m" cx="182.7" r="2.6"/></g>
<g transform="translate(0,262.85)"><use href="#pt" x="116.3"/><circle class="m" cx="116.3" r="2.6"/></g>
<g transform="translate(0,297.4)"><line class="w" x1="74.8" x2="16.6"/><use href="#sp" x="16.6"/><rect class="b" x="74.8" y="-8.65" width="149.5" height="17.3"/><line class="w" x1="224.3" x2="249.2"/><use href="#sp" x="249.2"/><circle class="m" cx="124.6" r="2.6"/></g>
<g transform="translate(0,331.95)"><line class="w" x1="33.2" x2="16.6"/><use href="#sp" x="16.6"/><rect class="b" x="33.2" y="-8.65" width="216" height="17.3"/><circle class="m" cx="49.8" r="2.6"/></g>
<g transform="translate(0,366.5)"><line class="w" x1="49.8" x2="16.6"/><use href="#sp" x="16.6"/><rect class="b" x="49.8" y="-8.65" width="149.5" height="17.3"/><line class="w" x1="199.3" x2="249.2"/><use href="#sp" x="249.2"/><circle class="m" cx="132.9" r="2.6"/></g>
<g transform="translate(0,401.05)"><rect class="b" x="16.6" y="-8.65" width="116.3" height="17.3"/><line class="w" x1="132.9" x2="249.2"/><use href="#sp" x="249.2"/><circle class="m" cx="49.8" r="2.6"/></g>
<rect class="f" x="0.3" y="0" width="265.3" height="421"/>
<rect class="s1" x="0.3" y="-90" width="265.3" height="30"/><text class="st" x="133" y="-65">Construction</text>
<rect class="s2" x="0.3" y="-60" width="265.3" height="30"/><text class="st" x="133" y="-35">Evening</text>
<rect class="s3" x="0.3" y="-30" width="265.3" height="30"/><text class="st" x="133" y="-5">Weekend</text>
</g>
</svg>
